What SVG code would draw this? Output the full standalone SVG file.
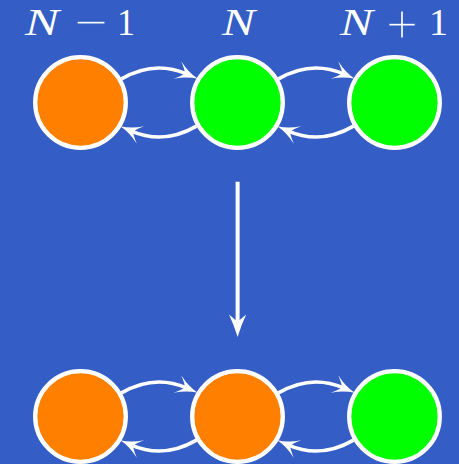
<svg xmlns="http://www.w3.org/2000/svg" width="459" height="464" viewBox="0 0 459 464">
  <style>
    .bg { fill: #345ec5; }
    .node { stroke: #ffffff; stroke-width: 4.3; }
    .orange { fill: #ff8000; }
    .green { fill: #00ff00; }
    .label { fill: #ffffff; font-family: "Liberation Serif", "Times New Roman", serif; }
    .var { font-style: italic; font-size: 37px; }
    .num { font-size: 37px; }
    /* operators are set large, then thinned with a background-coloured outline */
    .op { font-size: 58px; stroke: #345ec5; stroke-width: 1.2px; }
    .edge { fill: none; stroke: #ffffff; stroke-width: 3.6; marker-end: url(#head); }
    .step { fill: none; stroke: #ffffff; stroke-width: 4; }
  </style>
  <defs>
    <!-- curved-barb arrowhead; path end sits at x=0, tip reaches ahead to x=11 -->
    <marker id="head" markerUnits="userSpaceOnUse" orient="auto" refX="0" refY="0" markerWidth="1" markerHeight="1" overflow="visible">
      <path d="M12,0 Q1,-2 -10,-9.5 Q-3,-2.8 -2,0 Q-3,2.8 -10,9.5 Q1,2 12,0 Z" fill="#ffffff"/>
    </marker>
  </defs>

  <rect class="bg" x="0" y="0" width="459" height="464"/>

  <!-- top row: states N-1, N, N+1 -->
  <g id="top-left">
    <circle class="node orange" cx="80.5" cy="102.5" r="45.3"/>
    <text class="label var" x="25" y="35" textLength="34" lengthAdjust="spacingAndGlyphs">N</text>
    <text class="label op" x="74" y="42" textLength="34" lengthAdjust="spacingAndGlyphs">−</text>
    <text class="label num" x="117" y="35" textLength="18" lengthAdjust="spacingAndGlyphs">1</text>
  </g>
  <g id="top-middle">
    <circle class="node green" cx="237.5" cy="102.5" r="45.3"/>
    <text class="label var" x="222" y="35" textLength="33" lengthAdjust="spacingAndGlyphs">N</text>
  </g>
  <g id="top-right">
    <circle class="node green" cx="394.5" cy="102.5" r="45.3"/>
    <text class="label var" x="340" y="35" textLength="33" lengthAdjust="spacingAndGlyphs">N</text>
    <text class="label op" x="386" y="44" textLength="32" lengthAdjust="spacingAndGlyphs">+</text>
    <text class="label num" x="429" y="35" textLength="19" lengthAdjust="spacingAndGlyphs">1</text>
  </g>

  <!-- bottom row -->
  <g id="bottom-left">
    <circle class="node orange" cx="80.5" cy="416.5" r="45.3"/>
  </g>
  <g id="bottom-middle">
    <circle class="node orange" cx="237.5" cy="416.5" r="45.3"/>
  </g>
  <g id="bottom-right">
    <circle class="node green" cx="394.5" cy="416.5" r="45.3"/>
  </g>

  <g id="connectors">
    <!-- top row transitions -->
    <path class="edge" d="M121.5,78.9 C143.6,66.1 164.78,64.45 186.65,73.92"/>
    <path class="edge" d="M196.5,126.1 C174.4,138.9 153.22,140.55 131.35,131.08"/>
    <path class="edge" d="M278.5,78.9 C300.6,66.1 321.78,64.45 343.65,73.92"/>
    <path class="edge" d="M353.5,126.1 C331.4,138.9 310.22,140.55 288.35,131.08"/>
    <!-- bottom row transitions -->
    <path class="edge" d="M121.5,392.9 C143.6,380.1 164.78,378.45 186.65,387.92"/>
    <path class="edge" d="M196.5,440.1 C174.4,452.9 153.22,454.55 131.35,445.08"/>
    <path class="edge" d="M278.5,392.9 C300.6,380.1 321.78,378.45 343.65,387.92"/>
    <path class="edge" d="M353.5,440.1 C331.4,452.9 310.22,454.55 288.35,445.08"/>
    <!-- vertical step arrow -->
    <line class="step" x1="237.6" y1="181.7" x2="237.6" y2="322"/>
    <path d="M237.6,337 Q234,325 229,314.5 Q235,319.5 237.6,322 Q240.2,319.5 246.2,314.5 Q241.2,325 237.6,337 Z" fill="#ffffff"/>
  </g>
</svg>
